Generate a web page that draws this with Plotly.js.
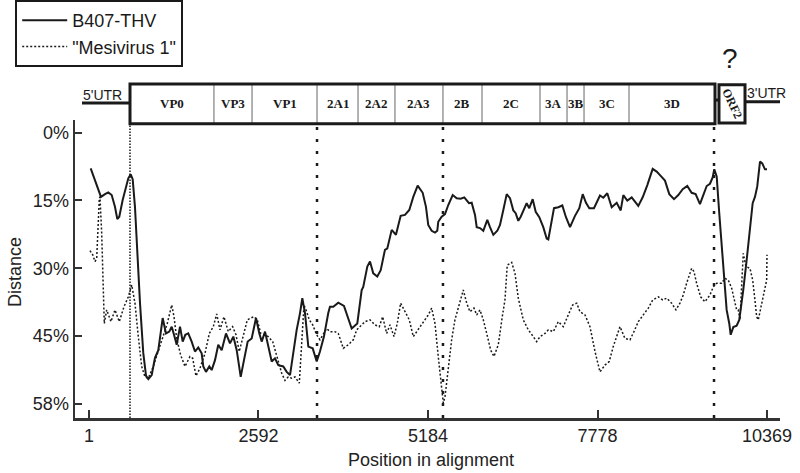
<!DOCTYPE html>
<html>
<head>
<meta charset="utf-8">
<script src="https://cdn.plot.ly/plotly-3.0.1.min.js"></script>
<style>
  html, body { margin: 0; padding: 0; background: #fff; }
  #chart { width: 800px; height: 473px; }
</style>
</head>
<body>
<div id="chart"></div>
<script>
// distance along the alignment
const b407X = [27, 93, 143, 184, 246, 296, 348, 398, 434, 464, 516, 567, 602, 639, 669, 704, 740, 781, 831, 873,
  908, 960, 1010, 1061, 1128, 1178, 1229, 1266, 1301, 1342, 1393, 1434, 1474, 1519, 1571, 1622, 1672, 1724, 1749, 1790,
  1841, 1877, 1928, 1978, 2030, 2096, 2157, 2208, 2260, 2321, 2371, 2428, 2489, 2555, 2606, 2642, 2693, 2743, 2795, 2845,
  2896, 2972, 3024, 3075, 3125, 3177, 3228, 3263, 3304, 3355, 3422, 3483, 3533, 3594, 3660, 3686, 3737, 3813, 3900, 4018,
  4104, 4171, 4195, 4257, 4298, 4348, 4410, 4462, 4527, 4563, 4630, 4695, 4767, 4833, 4899, 4960, 5027, 5104, 5154, 5189,
  5241, 5292, 5327, 5342, 5394, 5445, 5495, 5563, 5624, 5685, 5740, 5777, 5812, 5853, 5904, 5930, 5980, 6031, 6092, 6133,
  6184, 6245, 6286, 6337, 6389, 6439, 6490, 6526, 6566, 6603, 6653, 6694, 6734, 6786, 6832, 6887, 6948, 7000, 7025, 7061,
  7112, 7178, 7239, 7295, 7357, 7433, 7499, 7551, 7601, 7652, 7723, 7815, 7866, 7927, 7994, 8071, 8132, 8172, 8233, 8300,
  8401, 8468, 8539, 8621, 8682, 8733, 8809, 8875, 8947, 9013, 9080, 9150, 9217, 9278, 9344, 9395, 9447, 9497, 9538, 9563,
  9600, 9639, 9676, 9711, 9752, 9792, 9814, 9854, 9905, 9945, 9982, 10006, 10058, 10109, 10150, 10185, 10220, 10262, 10297, 10338,
  10369];
const b407Y = [7.9, 10.5, 12.5, 14.2, 13.6, 13.2, 13.8, 16.4, 19.1, 18.6, 14.9, 11.9, 10.1, 9.2, 10.3, 16.4, 26.7, 37.7, 48.7, 53.8,
  54.5, 53.6, 49.8, 48.1, 41.0, 44.4, 44.0, 42.9, 44.7, 46.9, 42.9, 46.2, 44.7, 44.4, 46.2, 48.4, 47.5, 48.8, 51.7, 52.9,
  51.7, 52.5, 50.3, 46.9, 48.1, 44.4, 46.6, 45.1, 48.1, 54.0, 50.3, 46.2, 45.5, 41.0, 44.4, 46.2, 44.0, 47.3, 50.6, 49.9,
  51.4, 51.7, 52.9, 53.6, 48.1, 43.6, 39.9, 36.6, 39.9, 47.3, 47.7, 50.6, 48.4, 45.1, 39.9, 38.5, 38.5, 37.6, 38.3, 43.3,
  42.2, 34.8, 34.1, 29.6, 28.5, 31.1, 31.8, 30.4, 25.9, 25.6, 21.5, 22.6, 18.4, 18.2, 17.1, 14.2, 11.7, 13.3, 16.4, 20.4,
  21.7, 22.1, 21.7, 19.7, 18.6, 18.0, 16.0, 13.8, 14.5, 14.6, 14.3, 14.9, 15.6, 15.5, 18.2, 20.9, 21.1, 21.7, 19.3, 20.9,
  22.6, 21.7, 20.4, 17.1, 13.6, 14.5, 17.2, 17.8, 19.5, 18.6, 16.7, 15.6, 16.7, 14.7, 17.5, 18.7, 20.9, 23.4, 23.6, 20.9,
  16.7, 16.5, 16.1, 18.7, 20.9, 18.4, 16.7, 13.6, 15.5, 16.7, 16.7, 13.9, 14.4, 13.4, 16.5, 15.5, 17.2, 13.8, 15.0, 14.3,
  16.2, 14.3, 11.6, 8.0, 8.6, 9.4, 10.6, 13.6, 14.7, 13.8, 12.5, 11.8, 13.3, 13.6, 15.8, 13.8, 11.8, 11.3, 9.9, 8.1,
  9.7, 17.8, 25.2, 32.6, 39.2, 42.2, 44.7, 43.0, 42.7, 41.4, 37.7, 34.8, 28.2, 21.5, 15.6, 14.2, 11.9, 6.4, 6.8, 8.1,
  8.1];

const mesiX = [16, 58, 93, 119, 159, 169, 195, 220, 235, 272, 337, 398, 464, 536, 602, 654, 704, 755, 807, 857,
  908, 984, 1061, 1137, 1198, 1266, 1301, 1342, 1403, 1469, 1545, 1587, 1637, 1698, 1775, 1841, 1902, 1954, 2004, 2065,
  2131, 2198, 2249, 2299, 2361, 2422, 2474, 2524, 2575, 2627, 2677, 2743, 2810, 2845, 2896, 2948, 2998, 3049, 3101, 3151,
  3217, 3254, 3289, 3330, 3370, 3422, 3483, 3533, 3584, 3636, 3686, 3762, 3813, 3890, 3966, 4043, 4095, 4145, 4221, 4298,
  4374, 4440, 4492, 4553, 4604, 4665, 4715, 4767, 4833, 4899, 4960, 5012, 5089, 5139, 5190, 5241, 5292, 5342, 5394, 5419,
  5445, 5495, 5547, 5597, 5648, 5685, 5725, 5777, 5827, 5888, 5930, 5980, 6031, 6083, 6144, 6194, 6260, 6321, 6362, 6397,
  6465, 6515, 6566, 6642, 6719, 6795, 6847, 6898, 6974, 7025, 7101, 7178, 7254, 7330, 7397, 7459, 7509, 7586, 7662, 7739,
  7815, 7891, 7957, 8018, 8121, 8197, 8274, 8335, 8401, 8477, 8554, 8621, 8707, 8774, 8835, 8911, 8977, 9038, 9089, 9140,
  9217, 9252, 9293, 9354, 9420, 9497, 9548, 9600, 9676, 9726, 9777, 9829, 9879, 9905, 9930, 9956, 10006, 10047, 10109, 10150,
  10185, 10211, 10236, 10288, 10338, 10364, 10369];
const mesiY = [26.1, 27.0, 28.5, 27.8, 14.5, 14.2, 22.2, 37.0, 42.2, 39.2, 41.8, 39.2, 41.8, 38.5, 36.3, 33.7, 37.7, 45.1, 51.7, 54.0,
  54.3, 51.7, 48.1, 45.1, 42.2, 38.1, 40.7, 45.5, 49.2, 51.7, 49.5, 49.9, 53.8, 52.1, 48.8, 44.4, 42.9, 40.1, 43.6, 40.7,
  44.0, 42.9, 44.7, 48.4, 44.7, 41.4, 41.0, 40.7, 41.4, 44.4, 44.7, 45.1, 46.2, 48.1, 51.0, 53.2, 54.8, 54.0, 54.3, 54.0,
  55.4, 45.1, 38.1, 39.6, 41.4, 42.5, 44.7, 45.8, 44.7, 43.3, 44.0, 44.0, 44.4, 47.7, 46.9, 45.8, 43.6, 42.9, 41.8, 41.4,
  42.5, 42.9, 40.7, 44.4, 42.5, 45.1, 42.2, 37.7, 39.6, 41.4, 45.1, 44.0, 42.2, 41.4, 40.3, 38.8, 42.2, 49.5, 56.2, 59.8,
  58.4, 51.7, 45.8, 41.4, 38.5, 37.0, 34.8, 37.7, 39.6, 38.8, 40.3, 39.2, 41.4, 44.4, 48.1, 49.5, 46.9, 40.7, 37.0, 29.3,
  28.7, 31.1, 36.6, 41.4, 43.6, 45.1, 46.2, 45.1, 44.4, 43.6, 44.0, 41.8, 42.9, 40.3, 38.1, 37.7, 39.6, 40.3, 42.9, 48.4,
  52.9, 51.4, 50.6, 47.3, 42.9, 45.5, 45.8, 44.0, 41.8, 40.3, 38.8, 37.0, 36.3, 37.0, 36.6, 37.7, 39.2, 37.7, 35.9, 33.3,
  30.0, 30.7, 33.3, 36.3, 37.4, 35.9, 34.1, 33.3, 33.3, 32.2, 32.6, 34.4, 37.7, 39.2, 39.2, 41.4, 26.7, 29.6, 30.0, 32.6,
  37.0, 40.7, 41.4, 37.7, 34.8, 32.6, 27.0];

// genome map
const geneNames = ["VP0", "VP3", "VP1", "2A1", "2A2", "2A3", "2B", "2C", "3A", "3B", "3C", "3D"];
const geneBounds = [628, 1912, 2494, 3488, 4115, 4680, 5414, 6011, 6898, 7311, 7571, 8259, 9574];
const orf2 = [9635, 10033];
const utr5Start = -106;
const utr3End = 10598;
const guideLines = [628, 3488, 5414, 9559];

const xTicks = [1, 2592, 5184, 7778, 10369];
const yTicks = [0, 15, 30, 45, 60];
const yTickText = ["0%", "15%", "30%", "45%", "58%"];

const ink = "#1a1a1a";
const boxTop = 1.121, boxBot = 0.987, lineY = 1.057;
const serif = "Liberation Serif, Times New Roman, serif";
const sans = "Liberation Sans, Arial, sans-serif";

const shapes = [];
const annotations = [];

// UTR lines
shapes.push({ type: "line", xref: "x", yref: "paper", x0: utr5Start, x1: geneBounds[0], y0: lineY, y1: lineY, line: { color: ink, width: 3 } });
shapes.push({ type: "line", xref: "x", yref: "paper", x0: geneBounds[geneBounds.length - 1], x1: orf2[0], y0: lineY + 0.01, y1: lineY + 0.01, line: { color: ink, width: 3 } });
shapes.push({ type: "line", xref: "x", yref: "paper", x0: orf2[1], x1: utr3End, y0: lineY + 0.004, y1: lineY + 0.004, line: { color: ink, width: 3 } });

// dividers between genes
for (let i = 1; i < geneBounds.length - 1; i++) {
    shapes.push({ type: "line", xref: "x", yref: "paper", x0: geneBounds[i], x1: geneBounds[i], y0: boxBot, y1: boxTop, line: { color: "#666", width: 1 } });
}
// polyprotein box
shapes.push({ type: "rect", xref: "x", yref: "paper", x0: geneBounds[0], x1: geneBounds[geneBounds.length - 1], y0: boxBot, y1: boxTop, line: { color: ink, width: 3 } });
// ORF2 box
shapes.push({ type: "rect", xref: "x", yref: "paper", x0: orf2[0], x1: orf2[1], y0: boxBot + 0.003, y1: boxTop - 0.003, line: { color: ink, width: 3 } });

// vertical guides
guideLines.forEach((gx, i) => {
    shapes.push({
        type: "line", xref: "x", yref: "paper", x0: gx, x1: gx, y0: 0, y1: boxBot,
        line: i === 0 ? { color: ink, width: 1.5, dash: "1.5px,1.5px" } : { color: ink, width: 2.5, dash: "3px,9px" }
    });
});

function label(x, y, text, font, extra) {
    annotations.push(Object.assign({
        xref: "x", yref: "paper", x: x, y: y, text: text, showarrow: false,
        xanchor: "center", yanchor: "middle", font: font
    }, extra || {}));
}

// gene labels
geneNames.forEach((name, i) => {
    label((geneBounds[i] + geneBounds[i + 1]) / 2, lineY, name,
        { family: serif, size: 13, color: ink, weight: "bold" });
});
label((orf2[0] + orf2[1]) / 2, lineY, "ORF2", { family: serif, size: 12, color: ink, weight: "bold" }, { textangle: 65 });
label(200, 1.084, "5'UTR", { family: sans, size: 14, color: ink });
label(10369, 1.09, "3'UTR", { family: sans, size: 14, color: ink });
label(9803, 1.208, "?", { family: sans, size: 28, color: ink });

// axis titles
annotations.push({ xref: "paper", yref: "paper", x: -0.085, y: 0.49, text: "Distance", textangle: -90,
    showarrow: false, xanchor: "center", yanchor: "middle", font: { family: sans, size: 18, color: "#222" } });
annotations.push({ xref: "paper", yref: "paper", x: 0.505, y: -0.14, text: "Position in alignment",
    showarrow: false, xanchor: "center", yanchor: "middle", font: { family: sans, size: 18, color: "#222" } });

const traces = [
    { x: b407X, y: b407Y, name: "B407-THV", mode: "lines", type: "scatter",
      line: { color: ink, width: 2 } },
    { x: mesiX, y: mesiY, name: "\"Mesivirus 1\"", mode: "lines", type: "scatter",
      line: { color: ink, width: 1.5, dash: "2px,2px" } }
];

const layout = {
    width: 800, height: 473,
    margin: { l: 75, r: 20, t: 120, b: 55, autoexpand: false },
    paper_bgcolor: "#fff", plot_bgcolor: "#fff",
    font: { family: sans, color: "#222" },
    showlegend: true,
    legend: {
        xref: "container", yref: "container", x: 0.019, y: 1, xanchor: "left", yanchor: "top",
        bordercolor: ink, borderwidth: 2, bgcolor: "#fff", itemwidth: 45,
        font: { size: 18, color: ink }, tracegroupgap: 0
    },
    xaxis: {
        range: [-213, 10568], showgrid: false, zeroline: false,
        showline: true, linecolor: "#333", linewidth: 2.5,
        ticks: "inside", ticklen: 8, tickwidth: 2, tickcolor: "#333",
        tickvals: xTicks, ticktext: xTicks.map(String),
        tickfont: { size: 18 }
    },
    yaxis: {
        range: [63.1, -2.8], showgrid: false, zeroline: false,
        showline: true, linecolor: "#333", linewidth: 2.5,
        ticks: "inside", ticklen: 7, tickwidth: 2, tickcolor: "#333",
        tickvals: yTicks, ticktext: yTickText,
        tickfont: { size: 18 }
    },
    shapes: shapes,
    annotations: annotations
};

Plotly.newPlot("chart", traces, layout, { displayModeBar: false, staticPlot: true });
</script>
</body>
</html>
